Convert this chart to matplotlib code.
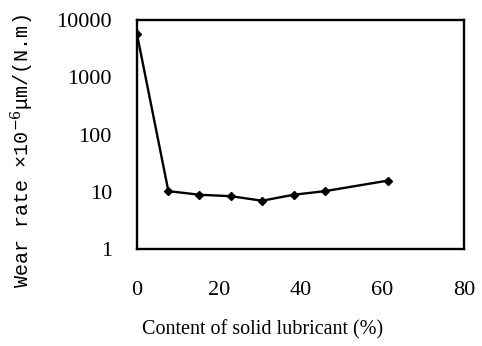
import matplotlib
matplotlib.use("Agg")
import matplotlib.pyplot as plt
from matplotlib.ticker import FixedLocator, NullLocator

# solid lubricant content (%) and wear rate (x10^-6 um/(N.m))
content = [0, 7.7, 15.3, 23.0, 30.6, 38.3, 46.0, 61.3]
wear_rate = [5800, 10.3, 8.9, 8.4, 7.0, 8.9, 10.3, 15.7]

x_ticks = [0, 20, 40, 60, 80]
y_ticks = [1, 10, 100, 1000, 10000]
y_tick_labels = ["1", "10", "100", "1000", "10000"]

plt.rcParams["mathtext.fontset"] = "dejavuserif"

fig = plt.figure(figsize=(4.82, 3.46), dpi=100)
ax = fig.add_axes([0.284, 0.280, 0.679, 0.662])

ax.plot(content, wear_rate, color="black", linewidth=1.7,
        marker="D", markersize=4.5, markerfacecolor="black")

ax.set_yscale("log")
ax.set_xlim(0, 80)
ax.set_ylim(1, 10000)
ax.xaxis.set_major_locator(FixedLocator(x_ticks))
ax.yaxis.set_major_locator(FixedLocator(y_ticks))
ax.yaxis.set_minor_locator(NullLocator())
ax.set_yticklabels(y_tick_labels)

for lab in ax.get_xticklabels() + ax.get_yticklabels():
    lab.set_family("Liberation Serif")
    lab.set_fontsize(16)
ax.tick_params(axis="both", length=0)
ax.tick_params(axis="x", pad=23)
ax.tick_params(axis="y", pad=18)

for sp in ax.spines.values():
    sp.set_linewidth(1.7)

fig.text(0.545, 0.047, "Content of solid lubricant (%)", family="Liberation Serif",
         fontsize=14.5, ha="center", va="center")
fig.text(0.046, 0.562, r"Wear rate ×10$^{-6}$μm/(N.m)", family="Liberation Mono",
         fontsize=14.5, rotation=90, ha="center", va="center")

fig.savefig("out.png", dpi=100)
